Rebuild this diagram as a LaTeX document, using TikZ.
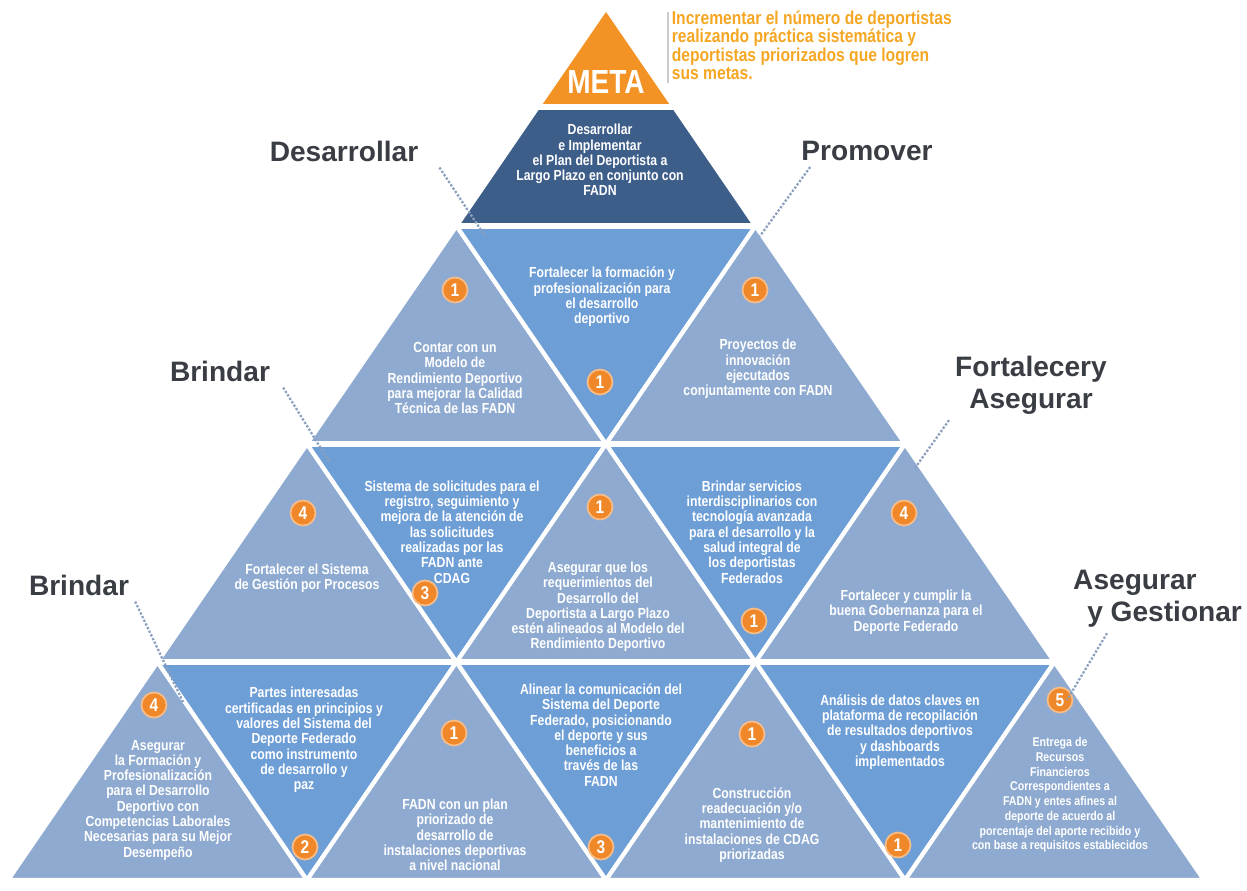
\documentclass[tikz,border=0pt]{standalone}
\usepackage{fontspec}
\setmainfont{Liberation Sans}
\newfontfamily\narrowfont[FakeStretch=0.84]{Liberation Sans}

\definecolor{MetaColor}{RGB}{243,146,37}
\definecolor{GoalColor}{RGB}{245,166,35}
\definecolor{TopColor}{RGB}{62,94,138}
\definecolor{UpColor}{RGB}{142,170,208}
\definecolor{DownColor}{RGB}{109,158,214}
\definecolor{BadgeColor}{RGB}{240,135,40}
\definecolor{HeadColor}{RGB}{58,62,68}
\definecolor{DotColor}{RGB}{140,160,190}

\tikzset{
	uptri/.style={fill=UpColor, draw=white, line width=2.4pt, line join=round},
	downtri/.style={fill=DownColor, draw=white, line width=2.4pt, line join=round},
	badge/.style={circle, fill=BadgeColor, draw=BadgeColor!55!white, line width=1pt,
		text=white, inner sep=0pt, minimum size=0.5cm,
		font=\narrowfont\bfseries\fontsize{10.5}{10.5}\selectfont},
	cell/.style={text=white, align=center, inner sep=1pt,
		font=\narrowfont\bfseries\fontsize{8.3}{8.7}\selectfont},
	heading/.style={text=HeadColor, font=\bfseries\fontsize{16}{18}\selectfont},
	leader/.style={draw=DotColor, densely dotted, line width=1.3pt}
}

\begin{document}
\begin{tikzpicture}[x=0.02cm, y=-0.02cm]

	\useasboundingbox (0,0) rectangle (1247,890);

	% Grid points

	\coordinate (top) at (606,8);
	\coordinate (m1) at (538,107);
	\coordinate (m2) at (674,107);
	\coordinate (a1) at (456.5,226);
	\coordinate (a2) at (755.5,226);
	\coordinate (b1) at (307,444);
	\coordinate (b2) at (606,444);
	\coordinate (b3) at (905,444);
	\coordinate (c1) at (157.5,662);
	\coordinate (c2) at (456.5,662);
	\coordinate (c3) at (755.5,662);
	\coordinate (c4) at (1054.5,662);
	\coordinate (d1) at (8,880);
	\coordinate (d2) at (307,880);
	\coordinate (d3) at (606,880);
	\coordinate (d4) at (905,880);
	\coordinate (d5) at (1204,880);

	% Goal and top band

	\filldraw [fill=MetaColor, draw=white, line width=2.4pt] (top) -- (m1) -- (m2) -- cycle;
	\filldraw [fill=TopColor, draw=white, line width=2.4pt] (m1) -- (m2) -- (a2) -- (a1) -- cycle;

	% Second row

	\filldraw [uptri] (a1) -- (b1) -- (b2) -- cycle;
	\filldraw [downtri] (a1) -- (a2) -- (b2) -- cycle;
	\filldraw [uptri] (a2) -- (b2) -- (b3) -- cycle;

	% Third row

	\filldraw [uptri] (b1) -- (c1) -- (c2) -- cycle;
	\filldraw [downtri] (b1) -- (b2) -- (c2) -- cycle;
	\filldraw [uptri] (b2) -- (c2) -- (c3) -- cycle;
	\filldraw [downtri] (b2) -- (b3) -- (c3) -- cycle;
	\filldraw [uptri] (b3) -- (c3) -- (c4) -- cycle;

	% Fourth row

	\filldraw [uptri] (c1) -- (d1) -- (d2) -- cycle;
	\filldraw [downtri] (c1) -- (c2) -- (d2) -- cycle;
	\filldraw [uptri] (c2) -- (d2) -- (d3) -- cycle;
	\filldraw [downtri] (c2) -- (c3) -- (d3) -- cycle;
	\filldraw [uptri] (c3) -- (d3) -- (d4) -- cycle;
	\filldraw [downtri] (c3) -- (c4) -- (d4) -- cycle;
	\filldraw [uptri] (c4) -- (d4) -- (d5) -- cycle;

	% Gaps between rows

	\draw [white, line width=3.6pt] (m1) -- (m2);
	\draw [white, line width=3.6pt] (a1) -- (a2);
	\draw [white, line width=3.6pt] (b1) -- (b3);
	\draw [white, line width=3.6pt] (c1) -- (c4);

	% Goal

	\node (meta) [text=white, font=\narrowfont\bfseries\fontsize{19}{19}\selectfont] at (606,82) {META};
	\node (goal) [anchor=north west, align=left, text=GoalColor, inner sep=2pt,
		font=\narrowfont\bfseries\fontsize{10.6}{10.4}\selectfont] at (668,7)
		{Incrementar el número de deportistas\\realizando práctica sistemática y\\deportistas priorizados que logren\\sus metas.};
	\draw [black!20, line width=0.6pt] ([yshift=-3pt]goal.north west) -- (goal.south west);

	\node (plan) [cell] at (600,160) {Desarrollar\\e Implementar\\el Plan del Deportista a\\Largo Plazo en conjunto con\\FADN};

	% Second row labels

	\node (n1) [badge] at (455,290) {1};
	\node (t1) [cell] at (455,378) {Contar con un\\Modelo de\\Rendimiento Deportivo\\para mejorar la Calidad\\Técnica de las FADN};
	\node (t2) [cell] at (602,297) {Fortalecer la formación y\\profesionalización para\\el desarrollo\\deportivo};
	\node (n2) [badge] at (600,382) {1};
	\node (n3) [badge] at (755,290) {1};
	\node (t3) [cell] at (758,369) {Proyectos de\\innovación\\ejecutados\\conjuntamente con FADN};

	% Third row labels

	\node (n4) [badge] at (303,513) {4};
	\node (t4) [cell] at (307,578) {Fortalecer el Sistema\\de Gestión por Procesos};
	\node (t5) [cell] at (452,532) {Sistema de solicitudes para el\\registro, seguimiento y\\mejora de la atención de\\las solicitudes\\realizadas por las\\FADN ante\\CDAG};
	\node (n5) [badge] at (425,593) {3};
	\node (n6) [badge] at (600,507) {1};
	\node (t6) [cell] at (598,607) {Asegurar que los\\requerimientos del\\Desarrollo del\\Deportista a Largo Plazo\\estén alineados al Modelo del\\Rendimiento Deportivo};
	\node (t7) [cell] at (752,532) {Brindar servicios\\interdisciplinarios con\\tecnología avanzada\\para el desarrollo y la\\salud integral de\\los deportistas\\Federados};
	\node (n7) [badge] at (754,621) {1};
	\node (n8) [badge] at (904,513) {4};
	\node (t8) [cell] at (906,612) {Fortalecer y cumplir la\\buena Gobernanza para el\\Deporte Federado};

	% Fourth row labels

	\node (n9) [badge] at (154,705) {4};
	\node (t9) [cell] at (158,800) {Asegurar\\la Formación y\\Profesionalización\\para el Desarrollo\\Deportivo con\\Competencias Laborales\\Necesarias para su Mejor\\Desempeño};
	\node (t10) [cell] at (304,740) {Partes interesadas\\certificadas en principios y\\valores del Sistema del\\Deporte Federado\\como instrumento\\de desarrollo y\\paz};
	\node (n10) [badge] at (305,847) {2};
	\node (n11) [badge] at (454,733) {1};
	\node (t11) [cell] at (455,835) {FADN con un plan\\priorizado de\\desarrollo de\\instalaciones deportivas\\a nivel nacional};
	\node (t12) [cell] at (601,735) {Alinear la comunicación del\\Sistema del Deporte\\Federado, posicionando\\el deporte y sus\\beneficios a\\través de las\\FADN};
	\node (n12) [badge] at (601,847) {3};
	\node (n13) [badge] at (752,734) {1};
	\node (t13) [cell] at (752,825) {Construcción\\readecuación y/o\\mantenimiento de\\instalaciones de CDAG\\priorizadas};
	\node (t14) [cell] at (900,732) {Análisis de datos claves en\\plataforma de recopilación\\de resultados deportivos\\y dashboards\\implementados};
	\node (n14) [badge] at (898,845) {1};
	\node (n15) [badge] at (1060,700) {5};
	\node (t15) [cell, font=\narrowfont\bfseries\fontsize{7.2}{8.4}\selectfont] at (1060,795) {Entrega de\\Recursos\\Financieros\\Correspondientes a\\FADN y entes afines al\\deporte de acuerdo al\\porcentaje del aporte recibido y\\con base a requisitos establecidos};

	% Headings

	\node (hdes) [heading] at (344,151) {Desarrollar};
	\node (hpro) [heading] at (867,151) {Promover};
	\node (hbri) [heading] at (220,371) {Brindar};
	\node (hfor) [heading, align=center] at (1031,385) {Fortalecery\\Asegurar};
	\node (hbrd) [heading] at (79,585) {Brindar};
	\node (hase) [heading, align=left, anchor=north west] at (1067,564) {Asegurar\\\hspace*{0.5em}y Gestionar};

	% Leaders

	\coordinate (ldes) at (485,236);
	\coordinate (lpro) at (760,236);
	\coordinate (lbri) at (330,463);
	\coordinate (lfor) at (915,468);
	\coordinate (lbrd) at (183,702);
	\coordinate (lase) at (1067,700);

	\draw [leader] ([xshift=0.3cm]hdes.south east) -- (ldes);
	\draw [leader] ([xshift=0.3cm]hpro.south west) -- (lpro);
	\draw [leader] ([xshift=0.14cm]hbri.south east) -- (lbri);
	\draw [leader] (hfor.south west) -- (lfor);
	\draw [leader] (hbrd.south east) -- (lbrd);
	\draw [leader] ([xshift=0.8cm]hase.south west) -- (lase);

\end{tikzpicture}
\end{document}
